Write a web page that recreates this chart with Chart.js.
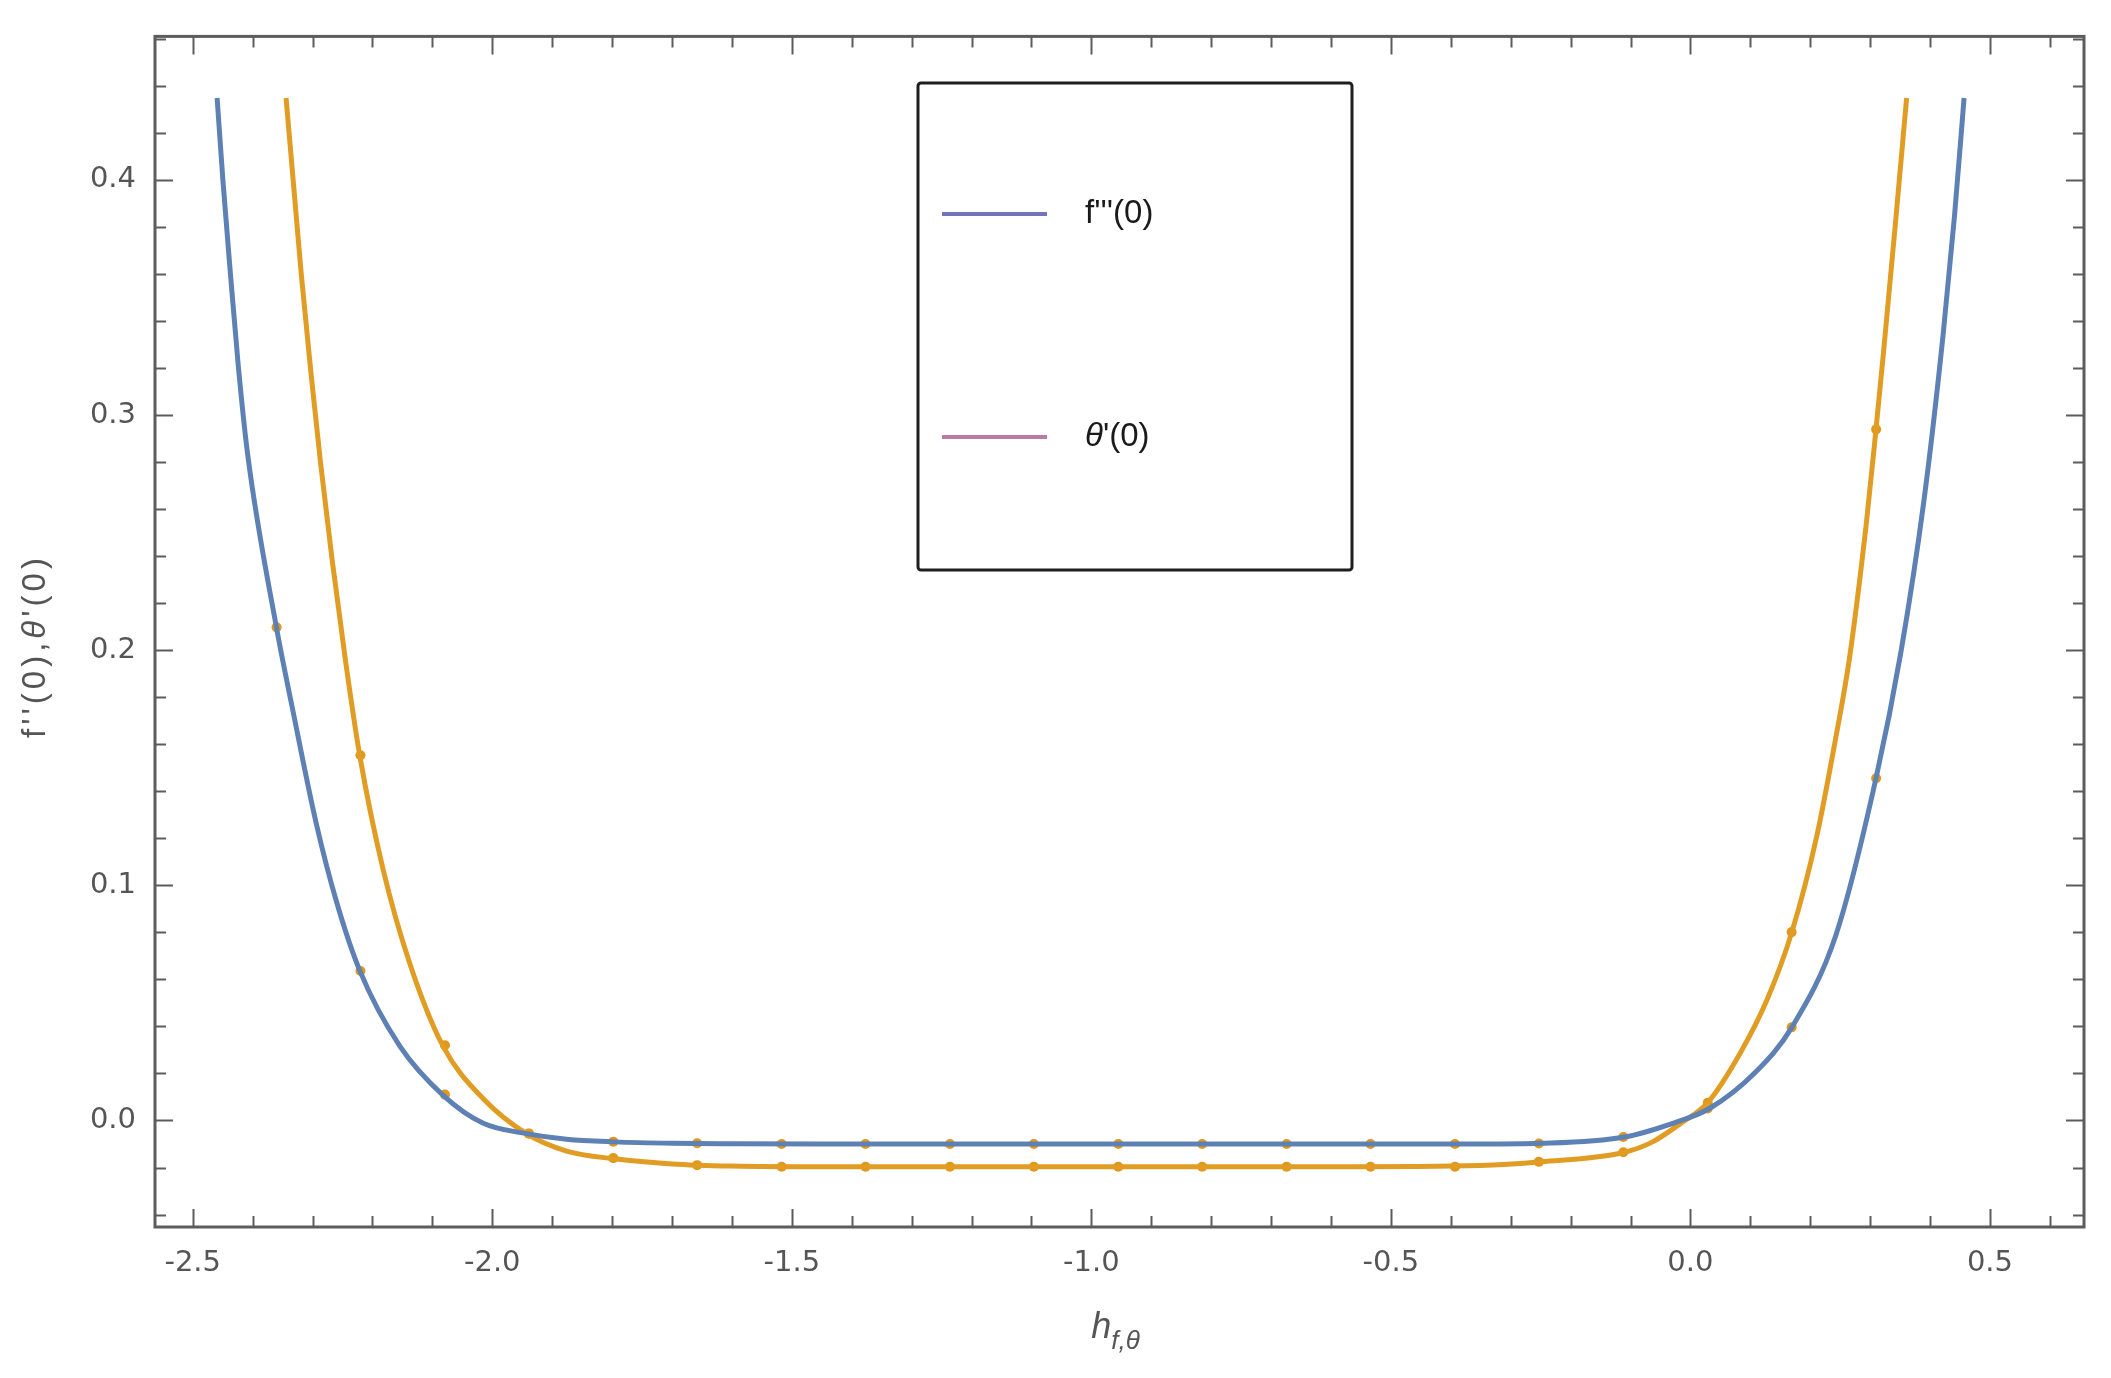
<!DOCTYPE html>
<html>
<head>
<meta charset="utf-8">
<title>f''(0), θ'(0) against h</title>
<script src="https://cdn.jsdelivr.net/npm/chart.js@4.4.1/dist/chart.umd.min.js"></script>
<style>
    html, body { margin: 0; padding: 0; background: #fff; }
    #plot { display: block; }
</style>
</head>
<body>
<canvas id="plot" width="2111" height="1378"></canvas>
<script>
// values
const fppX = [-2.4593, -2.4497, -2.4369, -2.4240, -2.4082, -2.3603, -2.333, -2.294, -2.260, -2.221, -2.154, -2.082, -2.015, -1.943, -1.876, -1.796, -1.700, -1.600, -1.450, -1.000, -0.600, -0.3514, -0.2493, -0.1099, -0.032, 0.0318, 0.1085, 0.1693, 0.2428, 0.3098, 0.3514, 0.3897, 0.4217, 0.4407, 0.4568];
const fppY = [0.4348, 0.4000, 0.3595, 0.3210, 0.2830, 0.2097, 0.1745, 0.1265, 0.0930, 0.0636, 0.0315, 0.0107, -0.0012, -0.0056, -0.0080, -0.0091, -0.0097, -0.0099, -0.0100, -0.0100, -0.0100, -0.0100, -0.0097, -0.0070, -0.0014, 0.0051, 0.0205, 0.0396, 0.0788, 0.1455, 0.1992, 0.2634, 0.3338, 0.3842, 0.4348];

const thetaX = [-2.3442, -2.3314, -2.3187, -2.3027, -2.2868, -2.2676, -2.2452, -2.2213, -2.182, -2.138, -2.082, -2.015, -1.943, -1.876, -1.796, -1.700, -1.600, -1.450, -1.000, -0.600, -0.3514, -0.2493, -0.1099, -0.064, -0.0128, 0.0286, 0.0830, 0.1277, 0.1693, 0.2109, 0.2428, 0.2651, 0.2938, 0.3098, 0.3225, 0.3417, 0.3609];
const thetaY = [0.4348, 0.3970, 0.3595, 0.3180, 0.2800, 0.2390, 0.1959, 0.1553, 0.1065, 0.0670, 0.0315, 0.0092, -0.0056, -0.0130, -0.0163, -0.0185, -0.0194, -0.0197, -0.0197, -0.0197, -0.0192, -0.0176, -0.0135, -0.0092, -0.0006, 0.0075, 0.0286, 0.0512, 0.0801, 0.1209, 0.1630, 0.1959, 0.2543, 0.2939, 0.3271, 0.3800, 0.4348];

// small orange marks sitting on both curves
const markX = [-2.360, -2.220, -2.079, -1.939, -1.798, -1.658, -1.517, -1.377, -1.236, -1.096, -0.955, -0.815, -0.674, -0.534, -0.393, -0.253, -0.112, 0.029, 0.169, 0.310];
const fppMarkY = [0.2097, 0.0636, 0.0110, -0.0055, -0.0090, -0.0097, -0.0100, -0.0100, -0.0100, -0.0100, -0.0100, -0.0100, -0.0100, -0.0100, -0.0100, -0.0098, -0.0070, 0.0051, 0.0396, 0.1455];
const thetaMarkY = [null, 0.1553, 0.0320, -0.0056, -0.0160, -0.0190, -0.0197, -0.0197, -0.0197, -0.0197, -0.0197, -0.0197, -0.0197, -0.0197, -0.0197, -0.0176, -0.0135, 0.0075, 0.0801, 0.2939];

const xTicks = [-2.5, -2.0, -1.5, -1.0, -0.5, 0.0, 0.5];
const yTicks = [0.0, 0.1, 0.2, 0.3, 0.4];
const legendLabels = ["f'''(0)", "θ'(0)"];

const BLUE = '#5e81b5';
const ORANGE = '#e19c24';
const MARK = '#e0971a';
const AXIS = '#5c5c5c';
const TEXT = '#555555';
const legendColors = ['#7474bd', '#b87aa6'];
const FONT = "'Liberation Sans', Arial, sans-serif";

function toPoints(xs, ys) {
    const pts = [];
    xs.forEach(function (x, i) {
        if (ys[i] !== null) pts.push({ x: x, y: ys[i] });
    });
    return pts;
}

// draws text made of pieces with their own font (italic theta, subscripts)
function drawPieces(ctx, parts, x, y, align) {
    let w = 0;
    parts.forEach(function (p) { ctx.font = p.font; w += ctx.measureText(p.text).width; });
    let cx = align === 'center' ? x - w / 2 : x;
    parts.forEach(function (p) {
        ctx.font = p.font;
        ctx.fillText(p.text, cx, y + (p.dy || 0));
        cx += ctx.measureText(p.text).width;
    });
}

const frameTicks = {
    id: 'frameTicks',
    afterDatasetsDraw: function (chart) {
        const ctx = chart.ctx;
        const a = chart.chartArea;
        const x = chart.scales.x;
        const y = chart.scales.y;
        ctx.save();
        ctx.strokeStyle = AXIS;
        ctx.lineWidth = 2;
        ctx.beginPath();
        for (let i = -26; i <= 7; i++) {
            const px = Math.round(x.getPixelForValue(i / 10)) + 0.5;
            if (px < a.left || px > a.right) continue;
            const len = (i % 5 === 0) ? 18 : 11;
            ctx.moveTo(px, a.bottom); ctx.lineTo(px, a.bottom - len);
            ctx.moveTo(px, a.top); ctx.lineTo(px, a.top + len);
        }
        for (let i = -4; i <= 46; i += 2) {
            const py = Math.round(y.getPixelForValue(i / 100)) + 0.5;
            if (py < a.top || py > a.bottom) continue;
            const len = (i % 10 === 0) ? 18 : 11;
            ctx.moveTo(a.left, py); ctx.lineTo(a.left + len, py);
            ctx.moveTo(a.right, py); ctx.lineTo(a.right - len, py);
        }
        ctx.stroke();
        ctx.lineWidth = 3;
        ctx.strokeRect(a.left, a.top, a.right - a.left, a.bottom - a.top);

        // axis titles
        ctx.fillStyle = TEXT;
        ctx.textBaseline = 'alphabetic';
        const cx = (a.left + a.right) / 2;
        drawPieces(ctx, [
            { text: 'h', font: 'italic 36px ' + FONT },
            { text: 'f,θ', font: 'italic 26px ' + FONT, dy: 11 }
        ], cx - 4, 1338, 'center');

        ctx.translate(36, 646);
        ctx.rotate(-Math.PI / 2);
        ctx.textBaseline = 'middle';
        ctx.letterSpacing = '4px';
        drawPieces(ctx, [
            { text: "f''(0),", font: '33px ' + FONT },
            { text: 'θ', font: 'italic 33px ' + FONT },
            { text: "'(0)", font: '33px ' + FONT }
        ], 0, 0, 'center');
        ctx.restore();
    },
    afterDraw: function (chart) {
        const ctx = chart.ctx;
        ctx.save();
        ctx.fillStyle = '#fff';
        ctx.strokeStyle = '#1e1e1e';
        ctx.lineWidth = 3;
        ctx.beginPath();
        ctx.roundRect(918, 83, 434, 487, 3);
        ctx.fill();
        ctx.stroke();
        const rows = [214, 437];
        ctx.lineWidth = 4;
        ctx.textBaseline = 'middle';
        ctx.fillStyle = '#1a1a1a';
        rows.forEach(function (ry, i) {
            ctx.strokeStyle = legendColors[i];
            ctx.beginPath();
            ctx.moveTo(942, ry);
            ctx.lineTo(1047, ry);
            ctx.stroke();
        });
        drawPieces(ctx, [{ text: legendLabels[0], font: '33px ' + FONT }], 1085, rows[0], 'left');
        drawPieces(ctx, [
            { text: legendLabels[1].charAt(0), font: 'italic 33px ' + FONT },
            { text: legendLabels[1].slice(1), font: '33px ' + FONT }
        ], 1085, rows[1], 'left');
        ctx.restore();
    }
};

new Chart(document.getElementById('plot'), {
    type: 'scatter',
    data: {
        datasets: [
            {
                label: legendLabels[0],
                data: toPoints(fppX, fppY),
                showLine: true,
                borderColor: BLUE,
                borderWidth: 5,
                pointRadius: 0,
                cubicInterpolationMode: 'monotone'
            },
            {
                label: legendLabels[1],
                data: toPoints(thetaX, thetaY),
                showLine: true,
                borderColor: ORANGE,
                borderWidth: 5,
                pointRadius: 0,
                cubicInterpolationMode: 'monotone'
            },
            {
                label: 'marks f',
                data: toPoints(markX, fppMarkY),
                showLine: false,
                pointRadius: 5,
                pointBorderWidth: 0,
                pointBackgroundColor: MARK
            },
            {
                label: 'marks theta',
                data: toPoints(markX, thetaMarkY),
                showLine: false,
                pointRadius: 5,
                pointBorderWidth: 0,
                pointBackgroundColor: MARK
            }
        ]
    },
    options: {
        responsive: false,
        animation: false,
        layout: { padding: { top: 31, right: 27, left: 0, bottom: 0 } },
        plugins: {
            legend: { display: false },
            tooltip: { enabled: false }
        },
        scales: {
            x: {
                type: 'linear',
                min: -2.563,
                max: 0.657,
                grid: { display: false, drawTicks: false },
                border: { display: false },
                afterBuildTicks: function (s) { s.ticks = xTicks.map(function (v) { return { value: v }; }); },
                afterFit: function (s) { s.height = 151; },
                ticks: {
                    autoSkip: false,
                    maxRotation: 0,
                    padding: 19,
                    color: TEXT,
                    font: { family: "'DejaVu Sans', sans-serif", size: 29 },
                    callback: function (v) { return v.toFixed(1); }
                }
            },
            y: {
                type: 'linear',
                min: -0.0453,
                max: 0.461,
                grid: { display: false, drawTicks: false },
                border: { display: false },
                afterBuildTicks: function (s) { s.ticks = yTicks.map(function (v) { return { value: v }; }); },
                afterFit: function (s) { s.width = 155; },
                ticks: {
                    autoSkip: false,
                    padding: 19,
                    color: TEXT,
                    font: { family: "'DejaVu Sans', sans-serif", size: 29 },
                    callback: function (v) { return v.toFixed(1); }
                }
            }
        }
    },
    plugins: [frameTicks]
});
</script>
</body>
</html>
